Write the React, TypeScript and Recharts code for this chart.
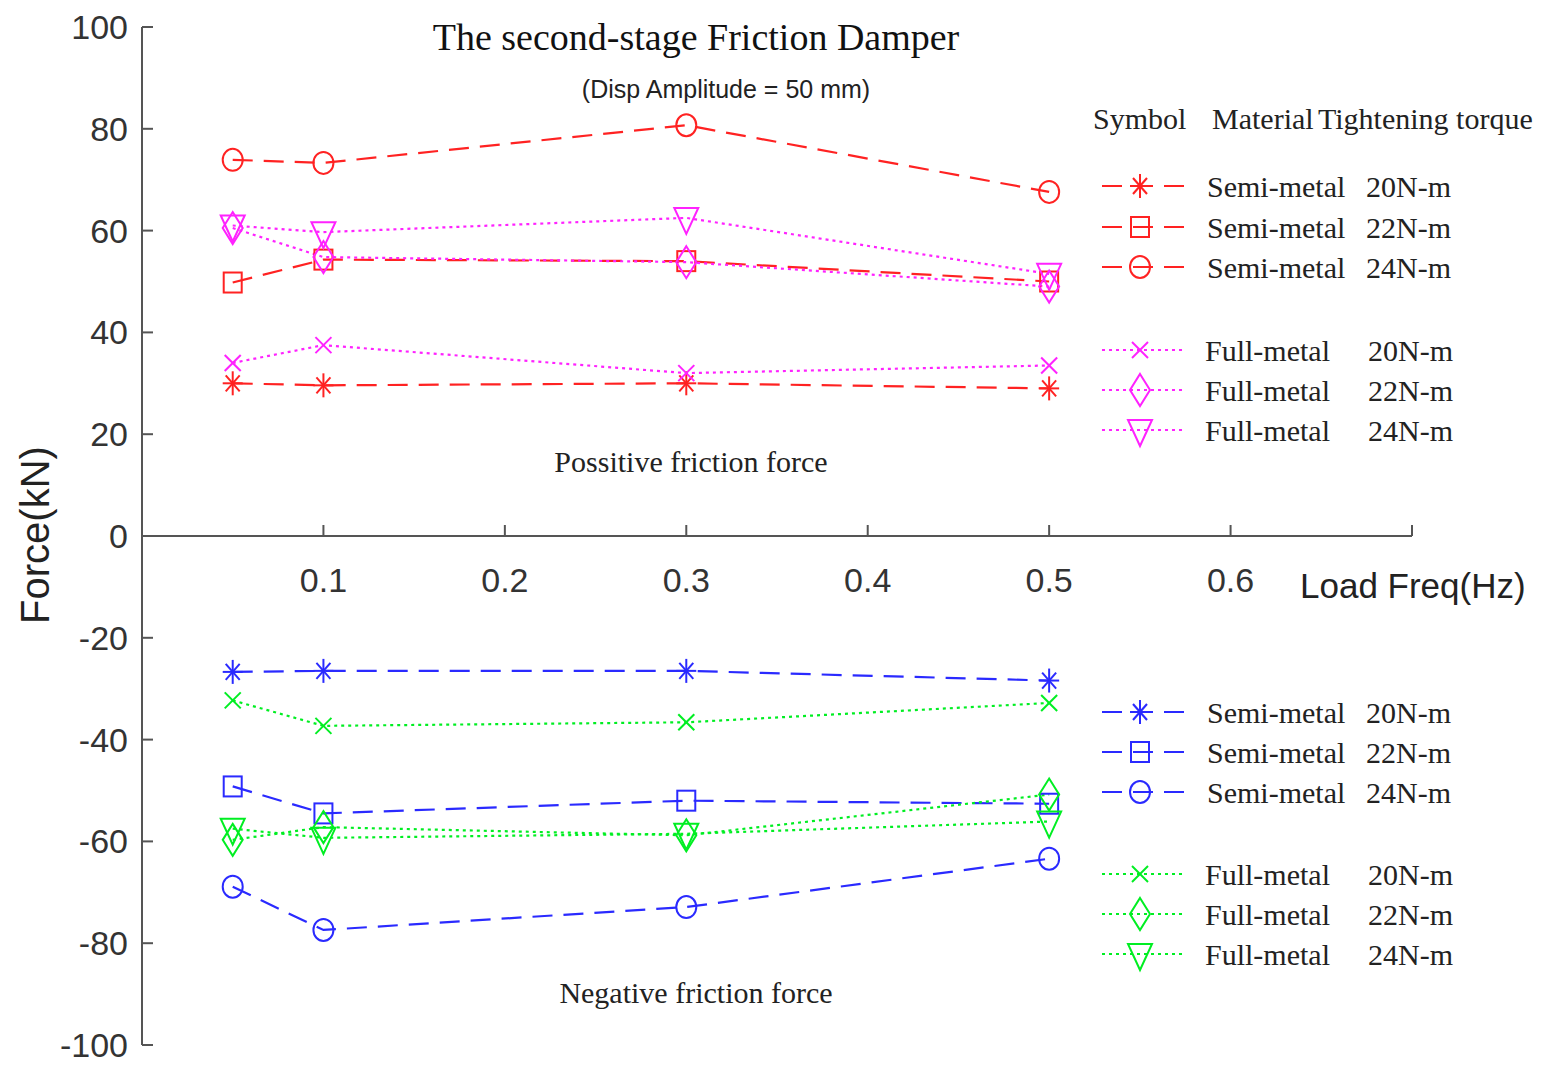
import React from 'react';
import { LineChart, Line, XAxis, YAxis, ReferenceLine, ReferenceDot } from 'recharts';

const freqs = [0.05, 0.1, 0.3, 0.5];

const semi20Pos = [30, 29.6, 30, 29];
const semi22Pos = [49.8, 54.3, 54, 50];
const semi24Pos = [73.9, 73.3, 80.7, 67.6];
const full20Pos = [34, 37.5, 32, 33.5];
const full22Pos = [60.5, 54.8, 53.8, 49];
const full24Pos = [61, 59.7, 62.5, 51.5];

const semi20Neg = [-26.7, -26.5, -26.5, -28.4];
const semi22Neg = [-49.2, -54.5, -52, -52.6];
const semi24Neg = [-68.9, -77.4, -72.9, -63.4];
const full20Neg = [-32.3, -37.3, -36.6, -32.8];
const full22Neg = [-59.7, -57.2, -58.8, -50.8];
const full24Neg = [-57.5, -59.3, -58.5, -56.1];

const yTicks = [-100, -80, -60, -40, -20, 0, 20, 40, 60, 80, 100];
const xTicks = [0.1, 0.2, 0.3, 0.4, 0.5, 0.6];
const xEnd = 0.7;

const materials = ['Semi-metal', 'Semi-metal', 'Semi-metal', 'Full-metal', 'Full-metal', 'Full-metal'];
const torques = ['20N-m', '22N-m', '24N-m', '20N-m', '22N-m', '24N-m'];

const RED = '#ff2222';
const MAGENTA = '#ff22ff';
const BLUE = '#2a2aff';
const GREEN = '#00ee22';
const DASH = '20 11';
const DOT = '3 4';

type Kind = 'star' | 'square' | 'circle' | 'x' | 'diamond' | 'tri';

const series = [
  { key: 'semi20Pos', values: semi20Pos, color: RED, kind: 'star', dash: DASH },
  { key: 'semi22Pos', values: semi22Pos, color: RED, kind: 'square', dash: DASH },
  { key: 'semi24Pos', values: semi24Pos, color: RED, kind: 'circle', dash: DASH },
  { key: 'full20Pos', values: full20Pos, color: MAGENTA, kind: 'x', dash: DOT },
  { key: 'full22Pos', values: full22Pos, color: MAGENTA, kind: 'diamond', dash: DOT },
  { key: 'full24Pos', values: full24Pos, color: MAGENTA, kind: 'tri', dash: DOT },
  { key: 'semi20Neg', values: semi20Neg, color: BLUE, kind: 'star', dash: DASH },
  { key: 'semi22Neg', values: semi22Neg, color: BLUE, kind: 'square', dash: DASH },
  { key: 'semi24Neg', values: semi24Neg, color: BLUE, kind: 'circle', dash: DASH },
  { key: 'full20Neg', values: full20Neg, color: GREEN, kind: 'x', dash: DOT },
  { key: 'full22Neg', values: full22Neg, color: GREEN, kind: 'diamond', dash: DOT },
  { key: 'full24Neg', values: full24Neg, color: GREEN, kind: 'tri', dash: DOT },
];

const data = freqs.map((f, i) => {
  const row: Record<string, number> = { freq: f };
  series.forEach((s) => {
    row[s.key] = s.values[i];
  });
  return row;
});

function Marker({ kind, cx, cy, color }: { kind: Kind; cx: number; cy: number; color: string }) {
  const common = { stroke: color, strokeWidth: 2, fill: 'none' };
  switch (kind) {
    case 'star':
      return (
        <g {...common}>
          <line x1={cx - 10} y1={cy} x2={cx + 10} y2={cy} />
          <line x1={cx} y1={cy - 12} x2={cx} y2={cy + 12} />
          <line x1={cx - 7} y1={cy - 8} x2={cx + 7} y2={cy + 8} />
          <line x1={cx - 7} y1={cy + 8} x2={cx + 7} y2={cy - 8} />
        </g>
      );
    case 'square':
      return <rect x={cx - 9} y={cy - 10} width={18} height={20} {...common} />;
    case 'circle':
      return <ellipse cx={cx} cy={cy} rx={10} ry={11} {...common} />;
    case 'x':
      return (
        <g {...common}>
          <line x1={cx - 8} y1={cy - 8} x2={cx + 8} y2={cy + 8} />
          <line x1={cx - 8} y1={cy + 8} x2={cx + 8} y2={cy - 8} />
        </g>
      );
    case 'diamond':
      return (
        <polygon
          points={`${cx},${cy - 16} ${cx + 10},${cy} ${cx},${cy + 16} ${cx - 10},${cy}`}
          {...common}
        />
      );
    default:
      return (
        <polygon
          points={`${cx - 12},${cy - 10} ${cx + 12},${cy - 10} ${cx},${cy + 16}`}
          {...common}
        />
      );
  }
}

const YTick = (props: any) => {
  const { x, y, payload } = props;
  return (
    <g>
      <line x1={x} y1={y} x2={x + 11} y2={y} stroke="#555" strokeWidth={2} />
      <text
        x={x - 14}
        y={y}
        textAnchor="end"
        dominantBaseline="central"
        fontFamily="Liberation Sans, Arial, sans-serif"
        fontSize={34}
        fill="#333"
      >
        {payload.value}
      </text>
    </g>
  );
};

const serif = 'Liberation Serif, Times New Roman, serif';
const sans = 'Liberation Sans, Arial, sans-serif';

function LegendBlock({ top, colors }: { top: number[]; colors: string[] }) {
  return (
    <>
      {top.map((y, i) => {
        const kind = series[i].kind as Kind;
        const dash = i < 3 ? DASH : DOT;
        return (
          <g key={`${y}-${i}`}>
            <line x1={1102} y1={y} x2={1184} y2={y} stroke={colors[i]} strokeWidth={2.2} strokeDasharray={dash} />
            <Marker kind={kind} cx={1140} cy={y} color={colors[i]} />
            <text x={i < 3 ? 1207 : 1205} y={y} dominantBaseline="central" fontFamily={serif} fontSize={30} fill="#222">
              {materials[i]}
            </text>
            <text x={i < 3 ? 1366 : 1368} y={y} dominantBaseline="central" fontFamily={serif} fontSize={30} fill="#222">
              {torques[i]}
            </text>
          </g>
        );
      })}
    </>
  );
}

export default function App() {
  return (
    <div style={{ position: 'absolute', left: 0, top: 0, width: 1546, height: 1081, background: '#fff' }}>
      <LineChart width={1546} height={1081} data={data} margin={{ top: 27, right: 134, bottom: 36, left: 0 }}>
        <XAxis dataKey="freq" type="number" domain={[0, xEnd]} hide />
        <YAxis
          type="number"
          domain={[-100, 100]}
          ticks={yTicks}
          width={142}
          axisLine={{ stroke: '#555', strokeWidth: 2 }}
          tickLine={false}
          tickSize={0}
          tickMargin={0}
          tick={<YTick />}
          interval={0}
        />
        <ReferenceLine y={0} stroke="#555" strokeWidth={2} />
        {xTicks.map((t) => (
          <ReferenceDot
            key={t}
            x={t}
            y={0}
            shape={(p: any) => (
              <g>
                <line x1={p.cx} y1={p.cy} x2={p.cx} y2={p.cy - 11} stroke="#555" strokeWidth={2} />
                <text
                  x={p.cx}
                  y={p.cy + 44}
                  textAnchor="middle"
                  dominantBaseline="central"
                  fontFamily={sans}
                  fontSize={34}
                  fill="#333"
                >
                  {t}
                </text>
              </g>
            )}
          />
        ))}
        <ReferenceDot
          x={xEnd}
          y={0}
          shape={(p: any) => (
            <line x1={p.cx} y1={p.cy} x2={p.cx} y2={p.cy - 11} stroke="#555" strokeWidth={2} />
          )}
        />
        {series.map((s) => (
          <Line
            key={s.key}
            dataKey={s.key}
            type="linear"
            stroke={s.color}
            strokeWidth={2.2}
            strokeDasharray={s.dash}
            isAnimationActive={false}
            activeDot={false}
            dot={(p: any) => (
              <Marker key={`${s.key}-${p.index}`} kind={s.kind as Kind} cx={p.cx} cy={p.cy} color={s.color} />
            )}
          />
        ))}
      </LineChart>
      <svg
        width={1546}
        height={1081}
        style={{ position: 'absolute', left: 0, top: 0, pointerEvents: 'none' }}
      >
        <text x={696} y={37} textAnchor="middle" dominantBaseline="central" fontFamily={serif} fontSize={38} fill="#111">
          The second-stage Friction Damper
        </text>
        <text x={726} y={89} textAnchor="middle" dominantBaseline="central" fontFamily={sans} fontSize={25} fill="#222">
          (Disp Amplitude = 50 mm)
        </text>
        <text x={691} y={461} textAnchor="middle" dominantBaseline="central" fontFamily={serif} fontSize={30} fill="#222">
          Possitive friction force
        </text>
        <text x={696} y={992} textAnchor="middle" dominantBaseline="central" fontFamily={serif} fontSize={30} fill="#222">
          Negative friction force
        </text>
        <text
          x={35}
          y={535}
          textAnchor="middle"
          dominantBaseline="central"
          fontFamily={sans}
          fontSize={40}
          fill="#222"
          transform="rotate(-90 35 535)"
        >
          Force(kN)
        </text>
        <text x={1300} y={585} dominantBaseline="central" fontFamily={sans} fontSize={35} fill="#222">
          Load Freq(Hz)
        </text>
        <text x={1093} y={118} dominantBaseline="central" fontFamily={serif} fontSize={30} fill="#222">
          Symbol
        </text>
        <text x={1212} y={118} dominantBaseline="central" fontFamily={serif} fontSize={30} fill="#222">
          Material
        </text>
        <text x={1318} y={118} dominantBaseline="central" fontFamily={serif} fontSize={30} fill="#222">
          Tightening torque
        </text>
        <LegendBlock
          top={[186, 227, 267, 350, 390, 430]}
          colors={[RED, RED, RED, MAGENTA, MAGENTA, MAGENTA]}
        />
        <LegendBlock
          top={[712, 752, 792, 874, 914, 954]}
          colors={[BLUE, BLUE, BLUE, GREEN, GREEN, GREEN]}
        />
      </svg>
    </div>
  );
}
